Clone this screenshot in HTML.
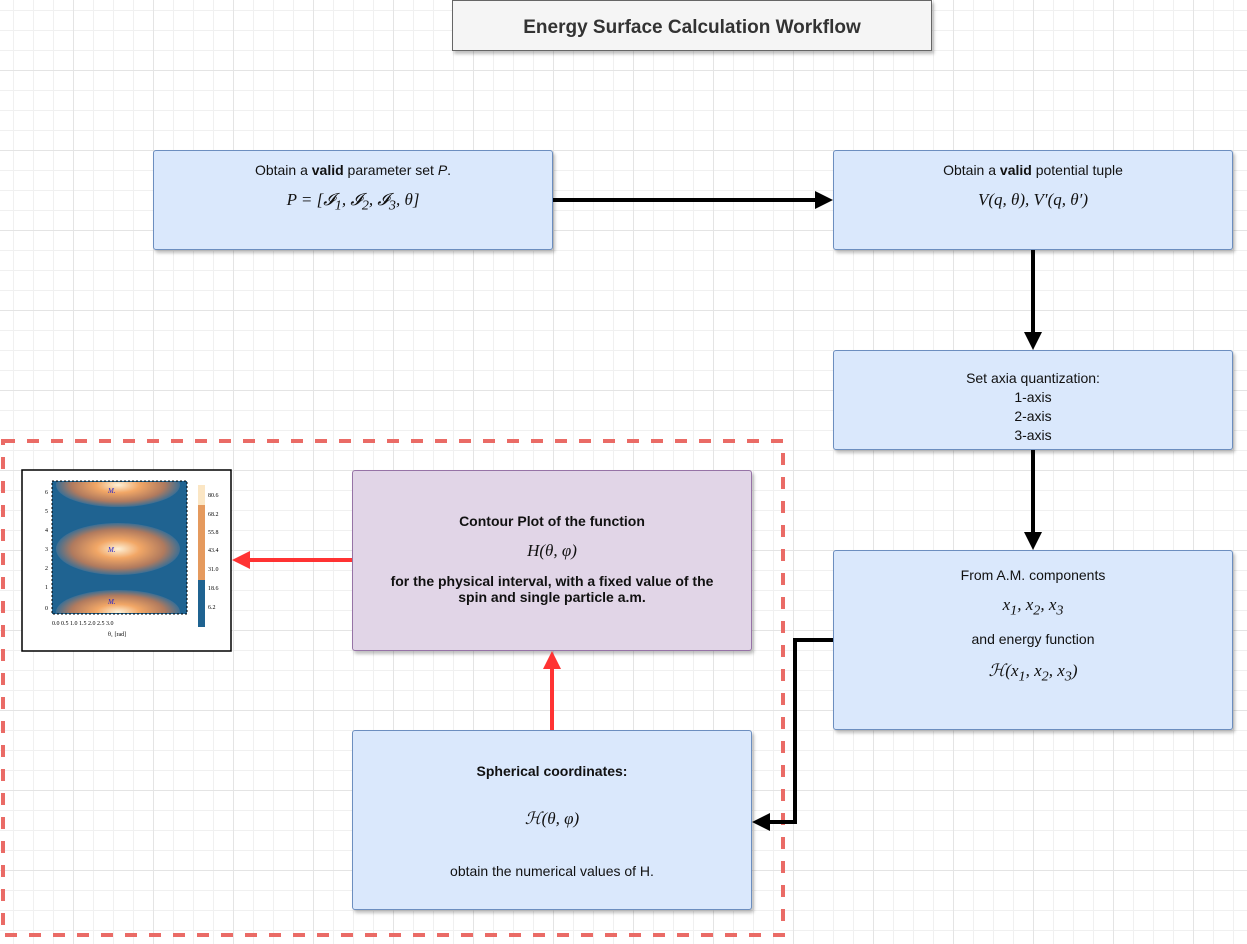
<!DOCTYPE html>
<html><head><meta charset="utf-8"><style>
body{margin:0;width:1247px;height:944px;overflow:hidden;font-family:"Liberation Sans",sans-serif;
background-color:#fff;
background-image:linear-gradient(#e4e4e4 1px,transparent 1px),linear-gradient(90deg,#e4e4e4 1px,transparent 1px),linear-gradient(#f0f0f0 1px,transparent 1px),linear-gradient(90deg,#f0f0f0 1px,transparent 1px);
background-size:80px 80px,80px 80px,20px 20px,20px 20px;background-position:-7px -10px;}
.b{position:absolute;box-sizing:border-box;border:1px solid #6c8ebf;background:#dae8fc;border-radius:3px;box-shadow:2px 3px 3px rgba(0,0,0,.25);text-align:center;font-size:14px;color:#111;}
.m{font-family:"Liberation Serif",serif;font-style:italic;font-size:17px;}
</style></head><body>
<div class="b" style="left:452px;top:0;width:480px;height:51px;background:#f5f5f5;border-color:#666;border-radius:0;font-weight:bold;font-size:19px;line-height:53px;color:#333">Energy Surface Calculation Workflow</div>

<div class="b" style="left:153px;top:150px;width:400px;height:100px;padding-top:11px">Obtain a <b>valid</b> parameter set <i>P</i>.<div class="m" style="margin-top:12px">P = [𝓘<sub>1</sub>, 𝓘<sub>2</sub>, 𝓘<sub>3</sub>, θ]</div></div>
<div class="b" style="left:833px;top:150px;width:400px;height:100px;padding-top:11px">Obtain a <b>valid</b> potential tuple<div class="m" style="margin-top:12px">V(q, θ), V′(q, θ′)</div></div>
<div class="b" style="left:833px;top:350px;width:400px;height:100px;padding-top:18px;line-height:19px">Set axia quantization:<br>1-axis<br>2-axis<br>3-axis</div>
<div class="b" style="left:833px;top:550px;width:400px;height:180px;padding-top:16px">From A.M. components<div class="m" style="margin:12px 0">x<sub>1</sub>, x<sub>2</sub>, x<sub>3</sub></div>and energy function<div class="m" style="margin-top:14px">ℋ(x<sub>1</sub>, x<sub>2</sub>, x<sub>3</sub>)</div></div>
<div class="b" style="left:352px;top:470px;width:400px;height:181px;background:#e1d5e7;border-color:#9673a6;padding-top:42px;font-weight:bold">Contour Plot of the function<div class="m" style="font-weight:normal;margin:12px 0">H(θ, φ)</div>for the physical interval, with a fixed value of the<br>spin and single particle a.m.</div>
<div class="b" style="left:352px;top:730px;width:400px;height:180px;padding-top:32px"><b>Spherical coordinates:</b><div class="m" style="margin:30px 0 34px">ℋ(θ, φ)</div>obtain the numerical values of H.</div>

<svg width="1247" height="944" style="position:absolute;left:0;top:0">
<defs><radialGradient id="g"><stop offset="0" stop-color="#fdf1d8"/><stop offset=".35" stop-color="#f2a766"/><stop offset=".75" stop-color="#b07a5e"/><stop offset="1" stop-color="#3d6f94"/></radialGradient></defs>
<rect x="3" y="441" width="780" height="494" fill="none" stroke="#ea6b66" stroke-width="4" stroke-dasharray="12,12"/>
<g stroke="#000" stroke-width="4" fill="none"><path d="M553 200H818"/><path d="M1033 250V335"/><path d="M1033 450V535"/><path d="M833 640H795V822H768"/></g>
<g fill="#000"><path d="M833 200L815 191V209Z"/><path d="M1033 350L1024 332H1042Z"/><path d="M1033 550L1024 532H1042Z"/><path d="M752 822L770 813V831Z"/></g>
<g stroke="#f33" stroke-width="4"><path d="M352 560H248"/><path d="M552 730V668"/></g>
<g fill="#f33"><path d="M232 560L250 551V569Z"/><path d="M552 651L543 669H561Z"/></g>
<rect x="22" y="470" width="209" height="181" fill="#fff" stroke="#000" stroke-width="1.5"/>
<rect x="52" y="481" width="135" height="133" fill="#1f6391" stroke="#000" stroke-dasharray="2,2"/>
<clipPath id="c"><rect x="53" y="482" width="133" height="131"/></clipPath>
<g clip-path="url(#c)"><ellipse cx="118" cy="485" rx="62" ry="22" fill="url(#g)"/><ellipse cx="118" cy="549" rx="62" ry="26" fill="url(#g)"/><ellipse cx="118" cy="612" rx="62" ry="22" fill="url(#g)"/></g>
<rect x="198" y="485" width="7" height="142" fill="#e59a5e"/><rect x="198" y="485" width="7" height="20" fill="#fbe6c4"/><rect x="198" y="580" width="7" height="47" fill="#1f6391"/>
<g font-family="Liberation Serif" font-size="6" fill="#000"><text x="208" y="497">80.6</text><text x="208" y="516">68.2</text><text x="208" y="534">55.8</text><text x="208" y="552">43.4</text><text x="208" y="571">31.0</text><text x="208" y="590">18.6</text><text x="208" y="609">6.2</text>
<text x="52" y="625">0.0 0.5 1.0 1.5 2.0 2.5 3.0</text><text x="108" y="636">θ₁ [rad]</text>
<text x="45" y="494">6</text><text x="45" y="513">5</text><text x="45" y="532">4</text><text x="45" y="551">3</text><text x="45" y="570">2</text><text x="45" y="589">1</text><text x="45" y="610">0</text></g>
<g fill="#22c" font-size="7" font-style="italic" font-family="Liberation Serif"><text x="108" y="493">M.</text><text x="108" y="552">M.</text><text x="108" y="604">M.</text></g>
</svg>
</body></html>
